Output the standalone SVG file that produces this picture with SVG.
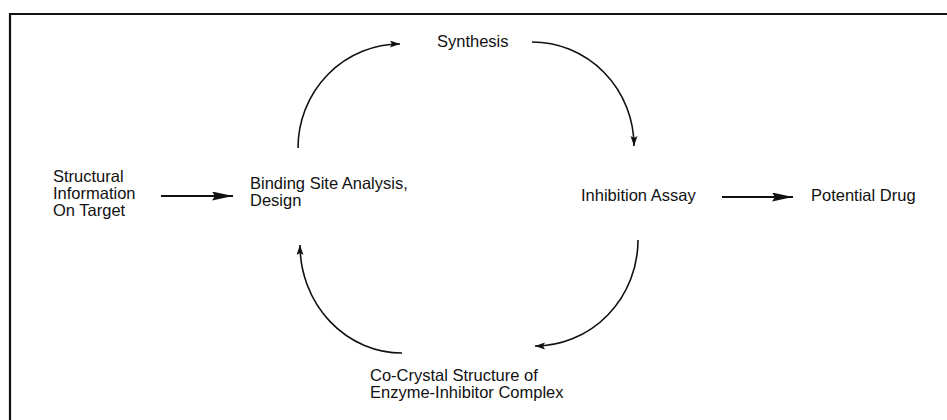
<svg xmlns="http://www.w3.org/2000/svg" width="947" height="420" viewBox="0 0 947 420">
<style>
.t{font-family:"Liberation Sans",Arial,sans-serif;font-size:16.5px;fill:#111}
.c{fill:none;stroke:#111;stroke-width:1.6}
.s{fill:none;stroke:#111;stroke-width:1.8}
</style>
<defs>
<marker id="ah" markerUnits="userSpaceOnUse" markerWidth="11" markerHeight="8" refX="10" refY="3.5" orient="auto">
<path d="M0,0 L10,3.5 L0,7 L2,3.5 z" fill="#111"/>
</marker>
<marker id="ab" markerUnits="userSpaceOnUse" markerWidth="22" markerHeight="10" refX="21" refY="4.5" orient="auto">
<path d="M0,0 L21,4.5 L0,9 L3,4.5 z" fill="#111"/>
</marker>
</defs>
<rect width="947" height="420" fill="#fff"/>
<path d="M947,14 H10 V420" fill="none" stroke="#111" stroke-width="2.2"/>
<g id="n-structural"><text class="t" x="53" y="181.5">Structural</text><text class="t" x="53" y="198.5">Information</text><text class="t" x="53" y="215.5">On Target</text></g>
<g id="n-binding"><text class="t" x="250" y="189">Binding Site Analysis,</text><text class="t" x="250" y="206">Design</text></g>
<g id="n-synthesis"><text class="t" x="437" y="47">Synthesis</text></g>
<g id="n-assay"><text class="t" x="581" y="201">Inhibition Assay</text></g>
<g id="n-drug"><text class="t" x="811" y="201">Potential Drug</text></g>
<g id="n-cocrystal"><text class="t" x="370" y="381">Co-Crystal Structure of</text><text class="t" x="370" y="398">Enzyme-Inhibitor Complex</text></g>
<g id="connectors">
<line class="s" x1="161" y1="196" x2="233" y2="196" marker-end="url(#ab)"/>
<line class="s" x1="722" y1="197" x2="793" y2="197" marker-end="url(#ab)"/>
<path class="c" d="M298,148 A102,104 0 0 1 400,44" marker-end="url(#ah)"/>
<path class="c" d="M532,42 A102,104 0 0 1 634,146" marker-end="url(#ah)"/>
<path class="c" d="M638,240 A103,106 0 0 1 535,346" marker-end="url(#ah)"/>
<path class="c" d="M402,353 A102,108 0 0 1 300,245" marker-end="url(#ah)"/>
</g>
</svg>
